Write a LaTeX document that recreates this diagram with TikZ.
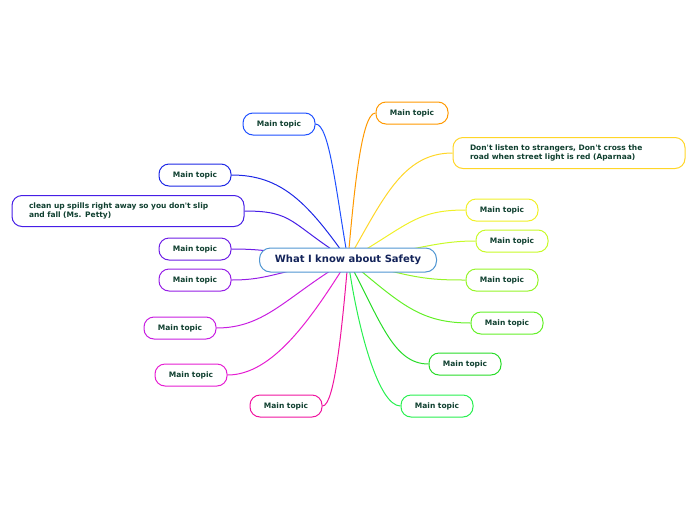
\documentclass[tikz,border=0pt]{standalone}
\usepackage{fontspec}
\setmainfont{DejaVu Sans}
\usetikzlibrary{positioning,backgrounds}

% branch colours, clockwise from the top
\definecolor{topicText}{RGB}{16,64,48}
\definecolor{centreText}{RGB}{20,36,90}
\definecolor{centreLine}{RGB}{80,150,210}
\definecolor{cOrange}{RGB}{255,153,0}
\definecolor{cGold}{RGB}{255,214,40}
\definecolor{cYellow}{RGB}{240,240,40}
\definecolor{cLime}{RGB}{200,250,40}
\definecolor{cLeaf}{RGB}{150,245,40}
\definecolor{cGreen}{RGB}{100,240,40}
\definecolor{cGrass}{RGB}{40,220,40}
\definecolor{cMint}{RGB}{40,240,80}
\definecolor{cPink}{RGB}{240,20,160}
\definecolor{cRose}{RGB}{230,30,210}
\definecolor{cMagenta}{RGB}{200,30,225}
\definecolor{cViolet}{RGB}{150,30,230}
\definecolor{cPurple}{RGB}{110,30,230}
\definecolor{cIndigo}{RGB}{70,30,230}
\definecolor{cBlue}{RGB}{30,40,230}
\definecolor{cSky}{RGB}{30,80,255}

\begin{document}
\begin{tikzpicture}[x=1pt,y=-1pt,
    topic/.style={draw, line width=1pt, fill=white, rounded corners=10pt,
      minimum width=72pt, minimum height=22pt, inner sep=2pt,
      font=\bfseries\fontsize{7.5}{9}\selectfont, text=topicText},
    longtopic/.style={topic, minimum height=31pt, inner xsep=17pt,
      text width=198pt, align=left},
    central/.style={draw=centreLine, line width=1pt, fill=white,
      rounded corners=11pt, minimum width=177pt, minimum height=24pt,
      font=\bfseries\fontsize{10}{12}\selectfont, text=centreText},
    branch/.style={line width=1pt}]
    \useasboundingbox (0,0) rectangle (696,520);

    % centre
    \node[central] (safety) at (348,260) {What I know about Safety};

    % right side
    \node[topic, draw=cOrange] (t1) at (412,113) {Main topic};
    \node[longtopic, draw=cGold] (t2) at (569,153)
      {Don\textquotesingle t listen to strangers, Don\textquotesingle t cross the\\road when street light is red (Aparnaa)};
    \node[topic, draw=cYellow] (t3) at (502,210) {Main topic};
    \node[topic, draw=cLime] (t4) at (512,241) {Main topic};
    \node[topic, draw=cLeaf] (t5) at (502,280) {Main topic};
    \node[topic, draw=cGreen] (t6) at (507,323) {Main topic};
    \node[topic, draw=cGrass] (t7) at (465,364) {Main topic};
    \node[topic, draw=cMint] (t8) at (437,406) {Main topic};

    % left side
    \node[topic, draw=cPink] (t9) at (286,406) {Main topic};
    \node[topic, draw=cRose] (t10) at (191,375) {Main topic};
    \node[topic, draw=cMagenta] (t11) at (180,328) {Main topic};
    \node[topic, draw=cViolet] (t12) at (195,280) {Main topic};
    \node[topic, draw=cPurple] (t13) at (195,249) {Main topic};
    \node[longtopic, draw=cIndigo] (t14) at (128,211)
      {clean up spills right away so you don\textquotesingle t slip\\and fall (Ms. Petty)};
    \node[topic, draw=cBlue] (t15) at (195,175) {Main topic};
    \node[topic, draw=cSky] (t16) at (279,124) {Main topic};

    % branches, behind the nodes (node, colour, anchor, out, in, out distance)
    \begin{pgfonlayer}{background}
      \foreach \n/\c/\a/\o/\i/\d in {t1/cOrange/west/180/85/14,
          t2/cGold/west/180/60/50, t3/cYellow/west/180/30/50,
          t4/cLime/west/180/8/40, t5/cLeaf/west/180/-15/40,
          t6/cGreen/west/180/-40/50, t7/cGrass/west/180/-62/35,
          t8/cMint/west/180/-82/22, t9/cPink/east/0/-95/12,
          t10/cRose/east/0/-122/45, t11/cMagenta/east/0/-150/50,
          t12/cViolet/east/0/-172/40, t13/cPurple/east/0/175/40,
          t14/cIndigo/east/0/148/50, t15/cBlue/east/0/125/50,
          t16/cSky/east/0/100/14}
        \draw[branch, \c] (\n.\a) to[out=\o, in=\i, out distance=\d pt,
          in distance=70pt] (safety.center);
    \end{pgfonlayer}
\end{tikzpicture}
\end{document}
